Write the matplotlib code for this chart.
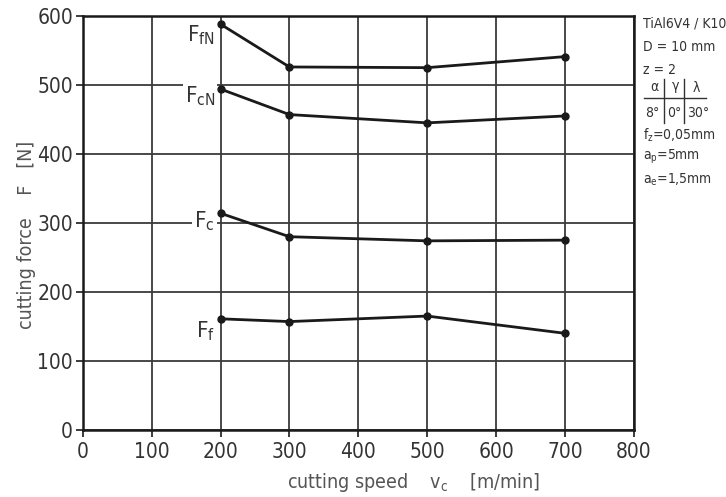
"""Cutting force vs cutting speed, TiAl6V4 / K10."""

import matplotlib
matplotlib.use("Agg")
import matplotlib.pyplot as plt
from matplotlib.lines import Line2D

plt.rcParams["font.family"] = ["DejaVu Sans"]
plt.rcParams["font.stretch"] = "condensed"
plt.rcParams["mathtext.default"] = "regular"

speed = [200, 300, 500, 700]
force_fN = [588, 526, 525, 541]
force_cN = [494, 457, 445, 455]
force_c = [314, 280, 274, 275]
force_f = [161, 157, 165, 140]

series_labels = ["$F_{fN}$", "$F_{cN}$", "$F_{c}$", "$F_{f}$"]
label_y = [572, 484, 302, 143]

x_ticks = [0, 100, 200, 300, 400, 500, 600, 700, 800]
y_ticks = [0, 100, 200, 300, 400, 500, 600]

INK = "#1a1a1a"
GRID = "#3a3a3a"
TEXT = "#555555"

fig = plt.figure(figsize=(7.26, 4.97), dpi=100)
ax = fig.add_axes([0.114, 0.135, 0.759, 0.833])

ax.set_xlim(0, 800)
ax.set_ylim(0, 600)
ax.set_xticks(x_ticks)
ax.set_yticks(y_ticks)
ax.grid(True, color=GRID, linewidth=1.3)
ax.set_axisbelow(True)
for sp in ax.spines.values():
    sp.set_color(INK)
    sp.set_linewidth(1.8)
ax.tick_params(axis="both", direction="out", length=5, width=1.2, color=INK,
               labelsize=15, labelcolor="#333333")
ax.tick_params(axis="x", pad=4)
ax.tick_params(axis="y", pad=2)

for vals in (force_fN, force_cN, force_c, force_f):
    ax.plot(speed, vals, color=INK, linewidth=2.0, marker="o", markersize=5,
            zorder=3, clip_on=False)

for lab, y in zip(series_labels, label_y):
    ax.text(192, y, lab, ha="right", va="center", fontsize=16, color="#333333",
            bbox=dict(facecolor="white", edgecolor="none", pad=1.5), zorder=4)

ax.set_xlabel("cutting speed    $v_c$    [m/min]", fontsize=14, color=TEXT)
ax.xaxis.set_label_coords(0.6, -0.1)
ax.set_ylabel("cutting force    F   [N]", fontsize=14, color=TEXT)
ax.yaxis.set_label_coords(-0.085, 0.47)

# parameter block on the right
tx = 0.886
fs = 10
tc = "#333333"
fig.text(tx, 0.952, "TiAl6V4 / K10", fontsize=fs, color=tc, va="center")
fig.text(tx, 0.905, "D = 10 mm", fontsize=fs, color=tc, va="center")
fig.text(tx, 0.859, "z = 2", fontsize=fs, color=tc, va="center")
cols = [0.889, 0.918, 0.945]
fig.text(cols[0] + 0.006, 0.824, r"$\alpha$", fontsize=fs, color=tc, va="center")
fig.text(cols[1] + 0.006, 0.824, r"$\gamma$", fontsize=fs, color=tc, va="center")
fig.text(cols[2] + 0.008, 0.824, r"$\lambda$", fontsize=fs, color=tc, va="center")
fig.text(cols[0], 0.772, "8°", fontsize=fs, color=tc, va="center")
fig.text(cols[1] + 0.001, 0.772, "0°", fontsize=fs, color=tc, va="center")
fig.text(cols[2] + 0.001, 0.772, "30°", fontsize=fs, color=tc, va="center")
fig.add_artist(Line2D([0.887, 0.972], [0.803, 0.803], color=tc, lw=1.0))
for cx in (0.915, 0.942):
    fig.add_artist(Line2D([cx, cx], [0.752, 0.842], color=tc, lw=1.0))
fig.text(tx, 0.728, "$f_z$=0,05mm", fontsize=fs, color=tc, va="center")
fig.text(tx, 0.684, "$a_p$=5mm", fontsize=fs, color=tc, va="center")
fig.text(tx, 0.638, "$a_e$=1,5mm", fontsize=fs, color=tc, va="center")

fig.savefig("out.png", dpi=100)
